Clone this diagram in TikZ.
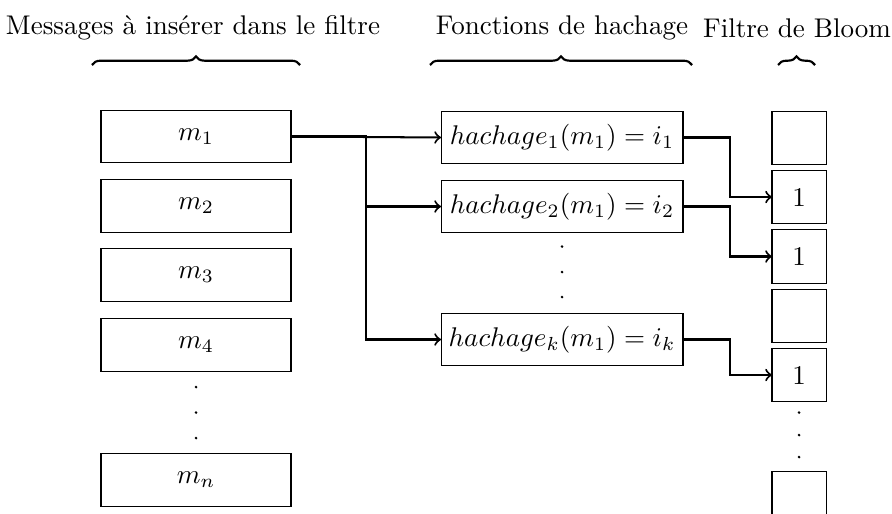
\documentclass[tikz,border=0pt]{standalone}
\usetikzlibrary{decorations.pathreplacing,arrows}
\begin{document}
\begin{tikzpicture}[x=0.37pt,y=-0.37pt,
  msgbox/.style={draw,line width=0.4pt,minimum width=70.3pt,minimum height=19.5pt,inner sep=0pt,outer sep=0pt},
  hashbox/.style={draw,line width=0.4pt,minimum width=89.5pt,minimum height=19.2pt,inner sep=0pt,outer sep=0pt},
  bitbox/.style={draw,line width=0.4pt,minimum width=20pt,minimum height=19.8pt,inner sep=0pt,outer sep=0pt},
  conn/.style={line width=0.75pt,->,>=to},
  brc/.style={decorate,decoration={brace,amplitude=3.2pt},line width=0.8pt},
  dotmark/.style={fill,radius=0.55pt}]
\useasboundingbox (0,0) rectangle (892,513);
\node (t1) at (193,28) {Messages à insérer dans le filtre};
\node (t2) at (562,28) {Fonctions de hachage};
\node (t3) at (797,28) {Filtre de Bloom};
\coordinate (b1l) at (92,65); \coordinate (b1r) at (300,65);
\coordinate (b2l) at (430,65); \coordinate (b2r) at (692,65);
\coordinate (b3l) at (778,65); \coordinate (b3r) at (815,65);
\draw[brc] (b1l) -- (b1r);
\draw[brc] (b2l) -- (b2r);
\draw[brc] (b3l) -- (b3r);
% messages
\node[msgbox] (m1) at (196,136.5) {$m_1$};
\node[msgbox] (m2) at (196,206) {$m_2$};
\node[msgbox] (m3) at (196,275) {$m_3$};
\node[msgbox] (m4) at (196,345) {$m_4$};
\node[msgbox] (mn) at (196,480) {$m_n$};
\fill[dotmark] (196,387) circle; \fill[dotmark] (196,412.5) circle; \fill[dotmark] (196,438) circle;
% hash functions
\node[hashbox] (h1) at (562,137.5) {$hachage_1(m_1) = i_1$};
\node[hashbox] (h2) at (562,206.5) {$hachage_2(m_1) = i_2$};
\node[hashbox] (hk) at (562,339.5) {$hachage_k(m_1) = i_k$};
\fill[dotmark] (562,246.5) circle; \fill[dotmark] (562,272) circle; \fill[dotmark] (562,297) circle;
% bloom filter
\node[bitbox] (f1) at (799,138) {};
\node[bitbox] (f2) at (799,197) {1};
\node[bitbox] (f3) at (799,256.5) {1};
\node[bitbox] (f4) at (799,316) {};
\node[bitbox] (f5) at (799,375) {1};
\node[bitbox] (f6) at (799,498) {};
\fill[dotmark] (799,412.5) circle; \fill[dotmark] (799,435) circle; \fill[dotmark] (799,457) circle;
% connectors
\coordinate (br) at (366,0);
\draw[conn] (m1.east) -- (h1.west);
\draw[conn] (m1.east) -| (br |- m1.east) |- (h2.west);
\draw[conn] (m1.east) -| (br |- m1.east) |- (hk.west);
\coordinate (cr) at (729.5,0);
\draw[conn] (h1.east) -| (cr |- h1.east) |- (f2.west);
\draw[conn] (h2.east) -| (cr |- h2.east) |- (f3.west);
\draw[conn] (hk.east) -| (cr |- hk.east) |- (f5.west);
\end{tikzpicture}
\end{document}
